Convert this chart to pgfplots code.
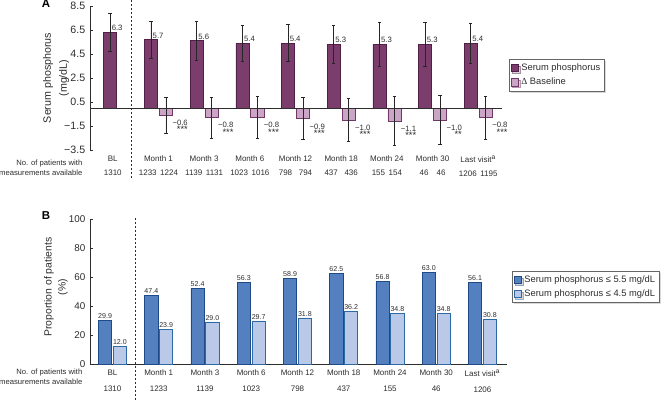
\documentclass[border=0pt]{standalone}
\usepackage{fontspec}
\setmainfont{Liberation Sans}
\newfontfamily\seriffont{Liberation Serif}
\usepackage{pgfplots}
\pgfplotsset{compat=1.18}
\usepackage{pgfplotstable}
\usetikzlibrary{shadows}
\definecolor{pD}{RGB}{122,61,108}
\definecolor{pDo}{RGB}{80,32,70}
\definecolor{pL}{RGB}{203,165,198}
\definecolor{pLo}{RGB}{110,55,100}
\definecolor{bD}{RGB}{84,128,192}
\definecolor{bDo}{RGB}{30,75,135}
\definecolor{bL}{RGB}{186,201,231}
\definecolor{bLo}{RGB}{45,105,165}
\definecolor{txt}{RGB}{45,45,45}
\newcommand{\stars}[1]{{\fontsize{7}{5.4}\selectfont #1}}

% Panel A: serum phosphorus (mean, SD)
\pgfplotstableread{
x      y    e
-0.06  6.3  1.6
0.836  5.7  1.55
1.836  5.6  1.6
2.836  5.4  1.5
3.836  5.4  1.55
4.836  5.3  1.6
5.836  5.3  1.8
6.836  5.3  1.8
7.836  5.4  1.65
}\tabA
% Panel A: change from baseline
\pgfplotstableread{
x      y     e
1.164  -0.6  1.5
2.164  -0.8  1.7
3.164  -0.8  1.75
4.164  -0.9  1.75
5.164  -1.0  1.8
6.164  -1.1  2.05
7.164  -1.0  2.05
8.164  -0.8  1.8
}\tabD
% Panel B: proportions
\pgfplotstableread{
xd     xl     d     l
-0.16  0.16   29.9  12.0
0.84   1.16   47.4  23.9
1.84   2.16   52.4  29.0
2.84   3.16   56.3  29.7
3.84   4.16   58.9  31.8
4.84   5.16   62.5  36.2
5.84   6.16   56.8  34.8
6.84   7.16   63.0  34.8
7.84   8.16   56.1  30.8
}\tabB

\pgfplotsset{
  sqlegend/.style={legend image code/.code={\draw[##1,/tikz/.cd,line width=0.5pt] (0pt,-2.7pt) rectangle (5.4pt,2.7pt);}},
  panel/.style={
    scale only axis, clip=false,
    axis lines*=left,
    tick align=inside, major tick length=2.2pt,
    xtick={0,...,8}, xtick style={draw=none},
    ytick style={draw=txt,line width=0.5pt},
    xticklabel style={align=center,text=txt,yshift=-1pt},
    yticklabel style={text=txt},
    legend cell align=left,
    ylabel style={align=center,text=txt,anchor=center},
  },
  lgd/.style={legend style={draw=black!60, fill=white, text=txt, inner sep=1.2pt,
    font=\fontsize{7}{8}\selectfont,
    drop shadow={shadow xshift=1.2pt, shadow yshift=-1.2pt, fill=black!30}}},
}

\begin{document}
\begin{tikzpicture}
\useasboundingbox (0,0) rectangle (500.25pt,300pt);

% ---------------- Panel A ----------------
\begin{axis}[panel, lgd,
  at={(67.5pt,187.5pt)}, anchor=south west,
  width=309pt, height=108pt,
  xmin=-0.499, xmax=8.52, ymin=-3.5, ymax=8.5,
  x axis line style={draw=none},
  y axis line style={draw=txt,line width=0.6pt},
  xticklabels={{BL\\1310},{Month 1\\1233\, 1224},{Month 3\\1139\, 1131},{Month 6\\1023\, 1016},{Month 12\\798\;\; 794},{Month 18\\437\;\; 436},{Month 24\\155\, 154},{Month 30\\46\quad 46},{Last visit\textsuperscript{a}\\1206\, 1195}},
  xticklabel style={font=\fontsize{6}{10.5}\selectfont},
  ytick={-3.5,-1.5,0.5,2.5,4.5,6.5,8.5},
  yticklabels={−3.5,−1.5,0.5,2.5,4.5,6.5,8.5},
  yticklabel style={font=\fontsize{8}{9}\selectfont},
  ylabel={Serum phosphorus\\(mg/dL)},
  ylabel style={font=\fontsize{8}{12}\selectfont, at={(axis description cs:-0.0825,0.5)}},
  legend style={at={(1.017,0.63)}, anchor=north west},
]
\addplot[ybar, bar width=0.285, bar shift=0pt, fill=pD, draw=pDo, line width=0.5pt, sqlegend,
  error bars/.cd, y dir=both, y explicit,
  error bar style={draw=black!85,line width=0.5pt},
  error mark options={rotate=90,mark size=1.2pt,line width=0.5pt,draw=black!85}]
  table[x=x,y=y,y error=e]{\tabA};
\addlegendentry{Serum phosphorus}
\addplot[ybar, bar width=0.285, bar shift=0pt, fill=pL, draw=pLo, line width=0.5pt, sqlegend,
  error bars/.cd, y dir=both, y explicit,
  error bar style={draw=black!85,line width=0.5pt},
  error mark options={rotate=90,mark size=1.2pt,line width=0.5pt,draw=black!85}]
  table[x=x,y=y,y error=e]{\tabD};
\addlegendentry{{\seriffont Δ} Baseline}
% value labels
\addplot[draw=none, mark=none, forget plot, point meta=explicit symbolic, nodes near coords,
  every node near coord/.style={anchor=south west, font=\fontsize{5.8}{6}\selectfont, text=txt, inner sep=0.8pt, xshift=0.3pt}]
  table[x=x,y=y,meta=y]{\tabA};
\addplot[draw=none, mark=none, forget plot, point meta=explicit symbolic, nodes near coords,
  every node near coord/.style={anchor=north west, align=right, font=\fontsize{5.8}{5.6}\selectfont, text=txt, inner sep=0.5pt, xshift=4.2pt, yshift=-3pt}]
  coordinates {(1.164,-0.6) [{−0.6\\\stars{***}}] (2.164,-0.8) [{−0.8\\\stars{***}}] (3.164,-0.8) [{−0.8\\\stars{***}}]
               (4.164,-0.9) [{−0.9\\\stars{***}}] (5.164,-1.0) [{−1.0\\\stars{***}}] (6.164,-1.1) [{−1.1\\\stars{***}}]
               (7.164,-1.0) [{−1.0\\\stars{**}}] (8.164,-0.8) [{−0.8\\\stars{***}}]};
\draw[txt,line width=0.6pt] (axis cs:-0.499,0) -- (axis cs:8.52,0);
\draw[txt,line width=0.6pt,dash pattern=on 1.6pt off 1.4pt] (axis cs:0.414,9.0) -- (axis cs:0.414,-6.0);
\end{axis}

% ---------------- Panel B ----------------
\begin{axis}[panel, lgd,
  at={(67.5pt,27pt)}, anchor=south west,
  width=312.75pt, height=108.75pt,
  xmin=-0.486, xmax=8.53, ymin=0, ymax=100,
  axis line style={draw=txt,line width=0.6pt},
  xticklabels={{BL\\1310},{Month 1\\1233},{Month 3\\1139},{Month 6\\1023},{Month 12\\798},{Month 18\\437},{Month 24\\155},{Month 30\\46},{Last visit\textsuperscript{a}\\1206}},
  xticklabel style={font=\fontsize{6}{12}\selectfont},
  ytick={0,20,40,60,80,100},
  /pgf/number format/assume math mode=true,
  yticklabel style={font=\fontsize{7.4}{9}\selectfont},
  ylabel={Proportion of patients\\(\%)},
  ylabel style={font=\fontsize{7.8}{10.5}\selectfont, at={(axis description cs:-0.0815,0.53)}},
  legend style={at={(1.012,0.641)}, anchor=north west},
]
\addplot[ybar, bar width=0.285, bar shift=0pt, fill=bD, draw=bDo, line width=0.5pt, sqlegend]
  table[x=xd,y=d]{\tabB};
\addlegendentry{Serum phosphorus ≤ 5.5 mg/dL}
\addplot[ybar, bar width=0.285, bar shift=0pt, fill=bL, draw=bLo, line width=0.5pt, sqlegend]
  table[x=xl,y=l]{\tabB};
\addlegendentry{Serum phosphorus ≤ 4.5 mg/dL}
\addplot[draw=none, mark=none, forget plot, point meta=explicit symbolic, nodes near coords,
  every node near coord/.style={anchor=south, font=\fontsize{5.3}{6}\selectfont, text=txt, inner sep=1pt}]
  table[x=xd,y=d,meta=d]{\tabB};
\addplot[draw=none, mark=none, forget plot, point meta=explicit symbolic, nodes near coords,
  every node near coord/.style={anchor=south, font=\fontsize{5.3}{6}\selectfont, text=txt, inner sep=1pt}]
  table[x=xl,y=l,meta=l]{\tabB};
\draw[txt,line width=0.6pt,dash pattern=on 1.6pt off 1.4pt] (axis cs:0.50,100.7) -- (axis cs:0.50,-24.8);
\end{axis}

% row labels and panel letters
\node[anchor=east, align=right, text=txt, font=\fontsize{5.75}{7.5}\selectfont] at (65.25pt,174pt) {No. of patients with\\measurements available};
\node[anchor=east, align=right, text=txt, font=\fontsize{5.75}{7.5}\selectfont] at (65.25pt,17.5pt) {No. of patients with\\measurements available};
\node[font=\bfseries\fontsize{8.6}{10}\selectfont, text=black] at (34.5pt,297pt) {A};
\node[font=\bfseries\fontsize{8.6}{10}\selectfont, text=black] at (34.5pt,138pt) {B};
\end{tikzpicture}
\end{document}
